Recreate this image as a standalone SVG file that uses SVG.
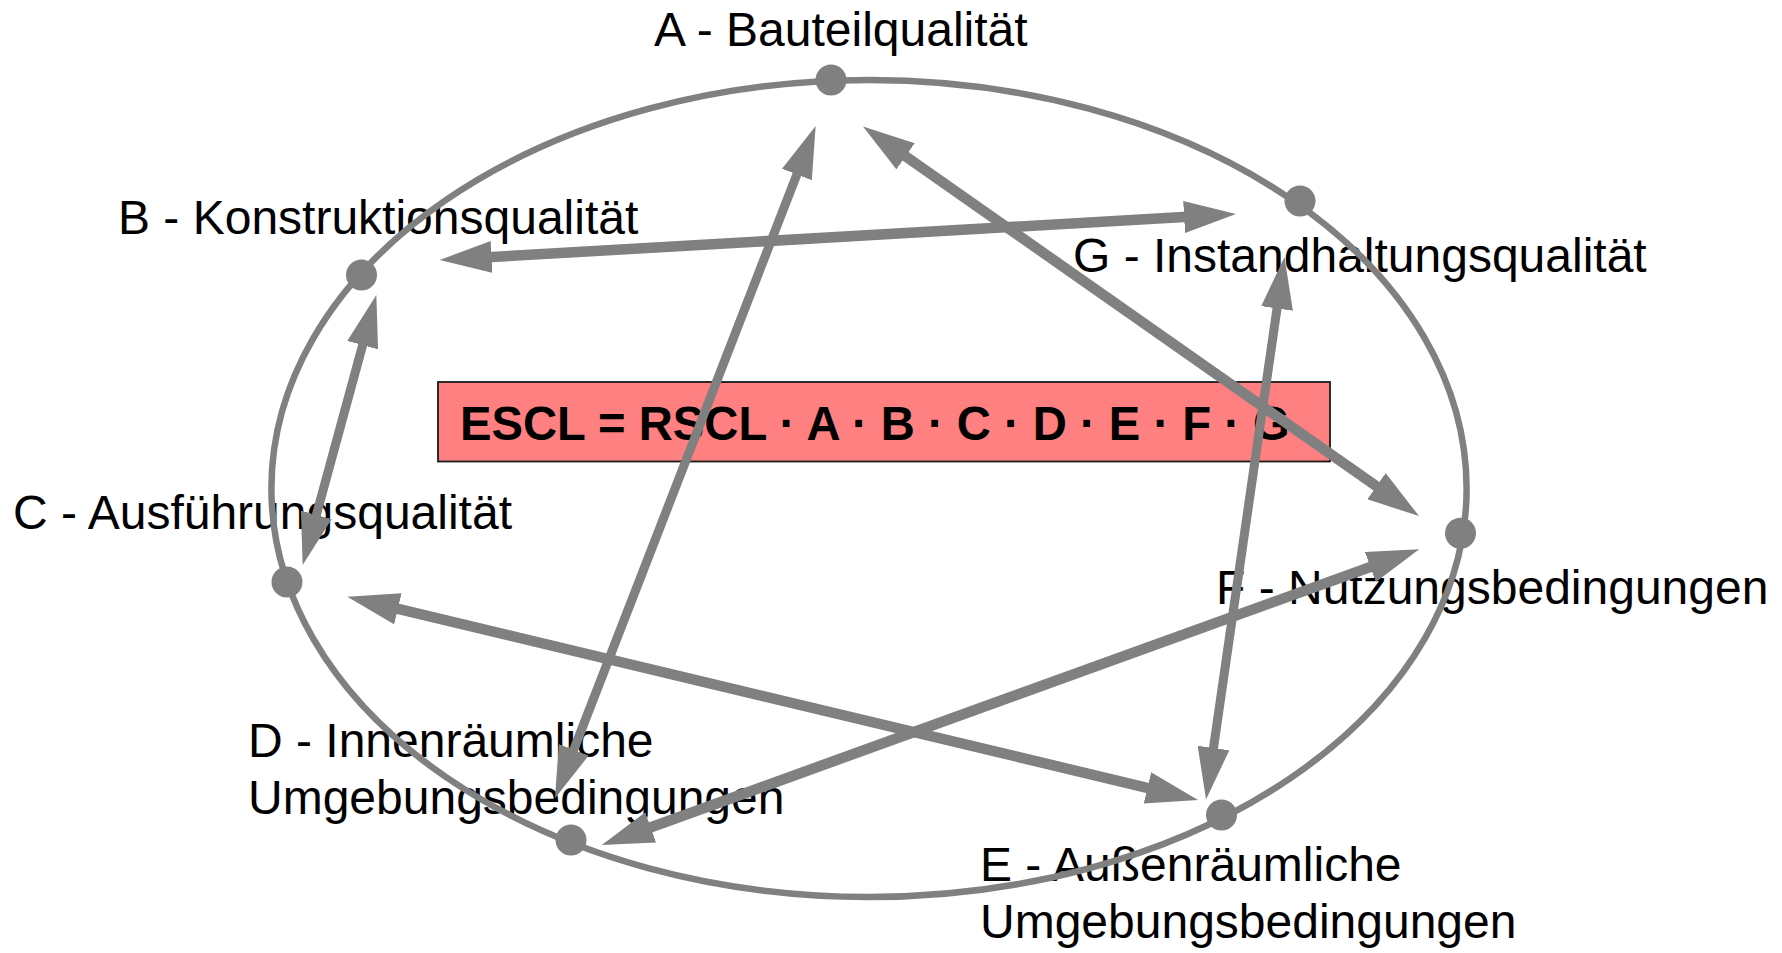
<svg xmlns="http://www.w3.org/2000/svg" width="1782" height="953" viewBox="0 0 1782 953">
<style>
.lbl{font-family:"Liberation Sans",Arial,sans-serif;font-size:48px;fill:#000}
.formula{font-family:"Liberation Sans",Arial,sans-serif;font-size:47.2px;font-weight:bold;fill:#000}
.dot{fill:#808080}
.conn{stroke:#808080;fill:none;marker-start:url(#ah);marker-end:url(#ah)}
.thin{stroke-width:9}
.thick{stroke-width:10.5}
</style>
<defs>
<marker id="ah" markerUnits="userSpaceOnUse" viewBox="0 0 52 32" markerWidth="52" markerHeight="32" refX="4" refY="16" orient="auto-start-reverse">
<path d="M0,0 L52,16 L0,32 Z" fill="#808080"/>
</marker>
</defs>
<rect width="1782" height="953" fill="#fff"/>
<g id="node-A"><text class="lbl" x="654" y="45.5">A - Bauteilqualität</text><circle class="dot" cx="831" cy="80" r="15.5"/></g>
<g id="node-B"><text class="lbl" x="118" y="233.5">B - Konstruktionsqualität</text><circle class="dot" cx="361.5" cy="275" r="15.5"/></g>
<g id="node-C"><text class="lbl" x="13" y="528.5">C - Ausführungsqualität</text><circle class="dot" cx="287" cy="582" r="15.5"/></g>
<g id="node-D"><text class="lbl" x="248" y="757">D - Innenräumliche</text><text class="lbl" x="248" y="814">Umgebungsbedingungen</text><circle class="dot" cx="571" cy="840" r="15.5"/></g>
<g id="node-E"><text class="lbl" x="980" y="881">E - Außenräumliche</text><text class="lbl" x="980" y="938">Umgebungsbedingungen</text><circle class="dot" cx="1221.5" cy="815" r="15.5"/></g>
<g id="node-F"><text class="lbl" x="1216" y="603.5">F - Nutzungsbedingungen</text><circle class="dot" cx="1460.5" cy="533.3" r="15.5"/></g>
<g id="node-G"><text class="lbl" x="1073" y="272">G - Instandhaltungsqualität</text><circle class="dot" cx="1300" cy="201" r="15.5"/></g>
<g id="formula"><rect x="438" y="382" width="892" height="79.5" fill="#FF8080" stroke="#1a1a1a" stroke-width="1.8"/><text class="formula" x="460" y="439.5">ESCL = RSCL · A · B · C · D · E · F · G</text></g>
<g id="ring"><ellipse cx="869" cy="488.5" rx="597.6" ry="408.5" fill="none" stroke="#808080" stroke-width="6.5"/></g>
<g id="connectors">
<path class="conn thin" d="M798.3,170.8 L572.3,753.5"/>
<path class="conn thick" d="M487.6,257.2 L1188.1,216.8"/>
<path class="conn thin" d="M363.7,341.3 L315.3,518.7"/>
<path class="conn thick" d="M394,607.9 L1151.3,788.8"/>
<path class="conn thick" d="M646.9,828.7 L1374.1,565.6"/>
<path class="conn thick" d="M902.3,154 L1379.7,488.5"/>
<path class="conn thin" d="M1277.6,304.5 L1212.9,752"/>
</g>
</svg>
